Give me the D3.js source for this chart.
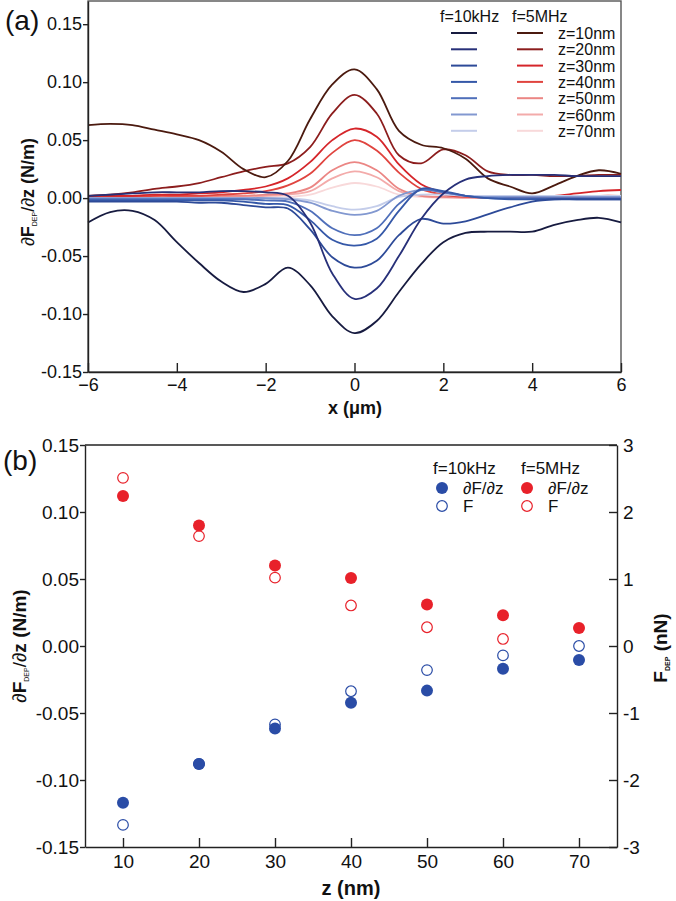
<!DOCTYPE html>
<html>
<head>
<meta charset="utf-8">
<script src="https://cdn.jsdelivr.net/npm/d3@7"></script>
<style>
    body { margin: 0; background: #fff; }
    svg { display: block; }
    text { font-family: "Liberation Sans", Arial, sans-serif; fill: #111; }
</style>
</head>
<body>
<div id="chart"></div>
<script>
// ---- panel (a): dF/dz line scans, x in um ----
const xPos = [-6, -5.5, -5, -4.5, -4, -3.5, -3, -2.5, -2, -1.5, -1, -0.5, 0, 0.5, 1, 1.5, 2, 2.5, 3, 3.5, 4, 4.5, 5, 5.5, 6];

// f = 10 kHz
const lf10 = [-0.021, -0.012, -0.011, -0.019, -0.038, -0.056, -0.072, -0.081, -0.074, -0.060, -0.075, -0.102, -0.1165, -0.106, -0.081, -0.057, -0.038, -0.030, -0.029, -0.029, -0.029, -0.023, -0.019, -0.017, -0.021];
const lf20 = [0.002, 0.003, 0.004, 0.005, 0.005, 0.005, 0.006, 0.006, 0.005, 0.002, -0.021, -0.065, -0.087, -0.078, -0.050, -0.018, 0.004, 0.016, 0.019, 0.020, 0.020, 0.020, 0.019, 0.019, 0.019];
const lf30 = [-0.003, -0.003, -0.003, -0.003, -0.003, -0.004, -0.004, -0.006, -0.008, -0.009, -0.027, -0.051, -0.060, -0.054, -0.032, -0.018, -0.022, -0.020, -0.014, -0.008, -0.003, -0.001, -0.001, -0.001, -0.001];
const lf40 = [-0.002, -0.002, -0.002, -0.002, -0.002, -0.002, -0.002, -0.003, -0.005, -0.006, -0.019, -0.036, -0.041, -0.035, -0.011, 0.008, 0.006, 0.002, 0.000, -0.001, -0.001, -0.001, -0.001, -0.001, -0.001];
const lf50 = [-0.001, -0.001, -0.001, -0.001, -0.001, -0.001, -0.001, -0.001, -0.002, -0.003, -0.011, -0.026, -0.032, -0.026, -0.005, 0.007, 0.005, 0.002, 0.000, 0.000, 0.000, 0.000, 0.000, 0.000, 0.000];
const lf60 = [0.000, 0.000, 0.000, 0.000, 0.000, 0.000, 0.000, 0.000, 0.000, -0.001, -0.004, -0.011, -0.0145, -0.011, 0.002, 0.007, 0.005, 0.002, 0.001, 0.001, 0.001, 0.001, 0.001, 0.001, 0.001];
const lf70 = [0.000, 0.000, 0.000, 0.000, 0.000, 0.000, 0.000, 0.000, 0.000, 0.000, -0.002, -0.007, -0.010, -0.007, 0.001, 0.003, 0.003, 0.002, 0.002, 0.002, 0.002, 0.002, 0.002, 0.002, 0.002];

// f = 5 MHz
const hf10 = [0.063, 0.064, 0.063, 0.059, 0.055, 0.050, 0.040, 0.025, 0.018, 0.032, 0.068, 0.098, 0.111, 0.094, 0.058, 0.046, 0.043, 0.034, 0.017, 0.010, 0.004, 0.011, 0.019, 0.024, 0.021];
const hf20 = [0.002, 0.003, 0.005, 0.008, 0.010, 0.013, 0.018, 0.023, 0.027, 0.030, 0.044, 0.073, 0.089, 0.073, 0.037, 0.030, 0.042, 0.037, 0.023, 0.020, 0.020, 0.019, 0.019, 0.020, 0.020];
const hf30 = [0.002, 0.002, 0.002, 0.003, 0.003, 0.004, 0.005, 0.007, 0.010, 0.017, 0.031, 0.050, 0.060, 0.053, 0.029, 0.012, 0.005, 0.002, 0.001, 0.001, 0.001, 0.002, 0.004, 0.006, 0.007];
const hf40 = [0.001, 0.001, 0.001, 0.002, 0.002, 0.002, 0.003, 0.004, 0.006, 0.011, 0.021, 0.039, 0.050, 0.041, 0.022, 0.008, 0.003, 0.001, 0.001, 0.001, 0.001, 0.001, 0.001, 0.002, 0.002];
const hf50 = [0.000, 0.000, 0.000, 0.001, 0.001, 0.001, 0.002, 0.002, 0.003, 0.004, 0.009, 0.024, 0.031, 0.024, 0.008, 0.002, 0.001, 0.001, 0.000, 0.000, 0.000, 0.000, 0.000, 0.000, 0.000];
const hf60 = [0.000, 0.000, 0.000, 0.000, 0.000, 0.001, 0.001, 0.001, 0.002, 0.003, 0.006, 0.017, 0.023, 0.018, 0.006, 0.002, 0.001, 0.000, 0.000, 0.000, 0.000, 0.000, 0.000, 0.000, 0.000];
const hf70 = [0.000, 0.000, 0.000, 0.000, 0.000, 0.000, 0.000, 0.000, 0.001, 0.001, 0.003, 0.009, 0.013, 0.010, 0.003, 0.001, 0.000, 0.000, 0.000, 0.000, 0.000, 0.000, 0.000, 0.000, 0.000];

const heights = ["z=10nm", "z=20nm", "z=30nm", "z=40nm", "z=50nm", "z=60nm", "z=70nm"];
const xTicksA = [-6, -4, -2, 0, 2, 4, 6];
const yTicksA = [-0.15, -0.10, -0.05, 0.00, 0.05, 0.10, 0.15];

// ---- panel (b): values at x = 0 versus tip height ----
const zNm = [10, 20, 30, 40, 50, 60, 70];
const dFdz10k = [-0.117, -0.088, -0.0615, -0.0423, -0.0333, -0.017, -0.0105];
const force10k = [-2.67, -1.76, -1.17, -0.675, -0.36, -0.14, 0.0];
const dFdz5M = [0.112, 0.090, 0.060, 0.0507, 0.031, 0.023, 0.0135];
const force5M = [2.51, 1.64, 1.02, 0.605, 0.28, 0.105, null];
const zTicks = [10, 20, 30, 40, 50, 60, 70];
const yTicksB = [-0.15, -0.10, -0.05, 0.00, 0.05, 0.10, 0.15];
const fTicks = [-3, -2, -1, 0, 1, 2, 3];

const lowSeries = [lf10, lf20, lf30, lf40, lf50, lf60, lf70];
const highSeries = [hf10, hf20, hf30, hf40, hf50, hf60, hf70];
const blues = ["#171b40", "#273079", "#2d4a98", "#3558a8", "#4f6fba", "#8298d0", "#c4cdea"];
const reds = ["#4b1a0f", "#8c1d1d", "#d5252a", "#e0443f", "#eb8684", "#f3abaa", "#f8d9da"];
const blue = "#2a4ca6";
const red = "#e8212a";

const svg = d3.select("#chart").append("svg")
    .attr("width", 676)
    .attr("height", 901);

svg.append("rect").attr("width", 676).attr("height", 901).attr("fill", "#fff");

// little helper for the axis title with the DEP subscript
function depTitle(g, tail, size) {
    const t = g.append("text").attr("text-anchor", "middle").style("font-size", size + "px");
    t.append("tspan").text("∂");
    t.append("tspan").attr("font-weight", "bold").text("F");
    t.append("tspan").attr("dy", 3).style("font-size", "7px").text("DEP");
    t.append("tspan").attr("dy", -3).text(tail[0]);
    t.append("tspan").attr("font-weight", "bold").text(tail[1]);
    return t;
}

function styleAxis(g, size) {
    g.selectAll("path, line").attr("stroke", "#222").attr("stroke-width", 1.4);
    g.selectAll("text").style("font-size", size + "px").attr("fill", "#111");
}

// ================= panel (a) =================
const xA = d3.scaleLinear().domain([-6, 6]).range([88, 621]);
const yA = d3.scaleLinear().domain([-0.15, 0.17]).range([372, 1]);

svg.append("rect")
    .attr("x", 88).attr("y", 1)
    .attr("width", 621 - 88).attr("height", 371)
    .attr("fill", "none").attr("stroke", "#555").attr("stroke-width", 1.4);

const line = d3.line()
    .x((d, i) => xA(xPos[i]))
    .y(d => yA(d))
    .curve(d3.curveCatmullRom.alpha(0.5));

const curves = svg.append("g");
// lightest first so the dark lines end up on top
for (let k = 6; k >= 0; k--) {
    curves.append("path").datum(highSeries[k])
        .attr("d", line).attr("fill", "none")
        .attr("stroke", reds[k]).attr("stroke-width", 1.8);
}
for (let k = 6; k >= 0; k--) {
    curves.append("path").datum(lowSeries[k])
        .attr("d", line).attr("fill", "none")
        .attr("stroke", blues[k]).attr("stroke-width", 1.8);
}

const axA = svg.append("g")
    .attr("transform", "translate(0,372)")
    .call(d3.axisBottom(xA).tickValues(xTicksA).tickSizeInner(-9).tickSizeOuter(0).tickPadding(6));
styleAxis(axA, 18);

const ayA = svg.append("g")
    .attr("transform", "translate(88,0)")
    .call(d3.axisLeft(yA).tickValues(yTicksA).tickSizeInner(5).tickSizeOuter(0).tickPadding(1)
        .tickFormat(d => d.toFixed(2)));
styleAxis(ayA, 18);

svg.append("text")
    .attr("x", 355).attr("y", 414)
    .attr("text-anchor", "middle")
    .attr("font-weight", "bold")
    .style("font-size", "18px")
    .text("x (μm)");

depTitle(svg.append("g").attr("transform", "translate(34,192) rotate(-90)"), ["/∂", "z (N/m)"], 18);

svg.append("text").attr("x", 5).attr("y", 30).style("font-size", "28px").text("(a)");

// legend (a)
const legA = svg.append("g");
legA.append("text").attr("x", 440).attr("y", 22).style("font-size", "16px").text("f=10kHz");
legA.append("text").attr("x", 512).attr("y", 22).style("font-size", "16px").text("f=5MHz");
heights.forEach((h, i) => {
    const y = 33 + i * 16.3;
    legA.append("line").attr("x1", 451).attr("x2", 477).attr("y1", y).attr("y2", y)
        .attr("stroke", blues[i]).attr("stroke-width", 2);
    legA.append("line").attr("x1", 517).attr("x2", 543).attr("y1", y).attr("y2", y)
        .attr("stroke", reds[i]).attr("stroke-width", 2);
    legA.append("text").attr("x", 558).attr("y", y + 6).style("font-size", "16px").text(h);
});

// ================= panel (b) =================
const xB = d3.scaleLinear().domain([5, 75]).range([85, 617]);
const yB = d3.scaleLinear().domain([-0.15, 0.15]).range([847, 445]);
const yF = d3.scaleLinear().domain([-3, 3]).range([847, 445]);

svg.append("line").attr("x1", 85).attr("x2", 617).attr("y1", 445).attr("y2", 445)
    .attr("stroke", "#222").attr("stroke-width", 1.4);

const axB = svg.append("g")
    .attr("transform", "translate(0,847)")
    .call(d3.axisBottom(xB).tickValues(zTicks).tickSizeInner(-9).tickSizeOuter(0).tickPadding(8));
styleAxis(axB, 19);

const ayB = svg.append("g")
    .attr("transform", "translate(85,0)")
    .call(d3.axisLeft(yB).tickValues(yTicksB).tickSizeInner(5).tickSizeOuter(0).tickPadding(1)
        .tickFormat(d => d.toFixed(2)));
styleAxis(ayB, 19);

const ayF = svg.append("g")
    .attr("transform", "translate(617,0)")
    .call(d3.axisRight(yF).tickValues(fTicks).tickSizeInner(-8).tickSizeOuter(0).tickPadding(6)
        .tickFormat(d => String(d)));
styleAxis(ayF, 19);

svg.append("text")
    .attr("x", 351).attr("y", 895)
    .attr("text-anchor", "middle")
    .attr("font-weight", "bold")
    .style("font-size", "20px")
    .text("z (nm)");

depTitle(svg.append("g").attr("transform", "translate(26,646) rotate(-90)"), ["/∂", "z (N/m)"], 19);

// right title: F_DEP (nN)
const rt = svg.append("g").attr("transform", "translate(667,648) rotate(-90)")
    .append("text").attr("text-anchor", "middle").attr("font-weight", "bold").style("font-size", "19px");
rt.append("tspan").text("F");
rt.append("tspan").attr("dy", 3).style("font-size", "7px").text("DEP");
rt.append("tspan").attr("dy", -3).text(" (nN)");

svg.append("text").attr("x", 3).attr("y", 470).style("font-size", "28px").text("(b)");

// points: open (F, right axis) first, filled (dF/dz, left axis) on top
const pts = svg.append("g");
const openSets = [[force10k, blue], [force5M, red]];
const fullSets = [[dFdz10k, blue], [dFdz5M, red]];
openSets.forEach(([vals, c]) => {
    pts.selectAll(null)
        .data(vals.map((v, i) => [zNm[i], v]).filter(d => d[1] !== null))
        .enter().append("circle")
        .attr("cx", d => xB(d[0])).attr("cy", d => yF(d[1]))
        .attr("r", 5.3).attr("fill", "#fff").attr("stroke", c).attr("stroke-width", 1.2);
});
fullSets.forEach(([vals, c]) => {
    pts.selectAll(null)
        .data(vals.map((v, i) => [zNm[i], v]))
        .enter().append("circle")
        .attr("cx", d => xB(d[0])).attr("cy", d => yB(d[1]))
        .attr("r", 6).attr("fill", c);
});

// legend (b)
const legB = svg.append("g");
legB.append("text").attr("x", 433).attr("y", 474).style("font-size", "17px").text("f=10kHz");
legB.append("text").attr("x", 521).attr("y", 474).style("font-size", "17px").text("f=5MHz");
[[442, blue], [527, red]].forEach(([cx, c]) => {
    legB.append("circle").attr("cx", cx).attr("cy", 488).attr("r", 6).attr("fill", c);
    legB.append("circle").attr("cx", cx).attr("cy", 506).attr("r", 5.3)
        .attr("fill", "#fff").attr("stroke", c).attr("stroke-width", 1.2);
    legB.append("text").attr("x", cx + 21).attr("y", 494).style("font-size", "17px").text("∂F/∂z");
    legB.append("text").attr("x", cx + 21).attr("y", 512).style("font-size", "17px").text("F");
});
</script>
</body>
</html>
